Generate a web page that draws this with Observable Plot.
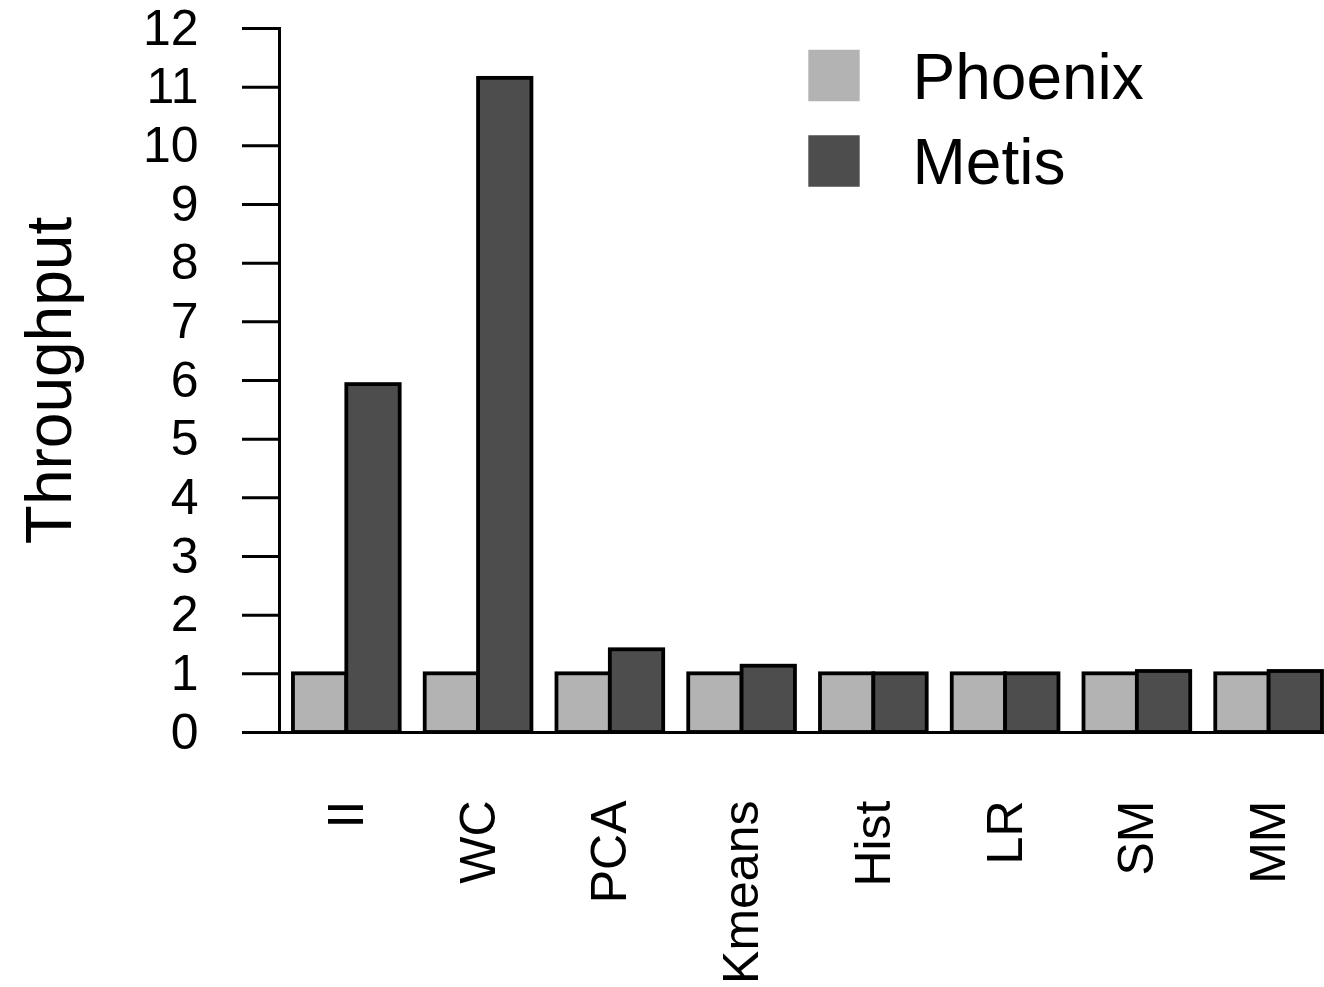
<!DOCTYPE html>
<html>
<head>
<meta charset="utf-8">
<script src="https://cdn.jsdelivr.net/npm/d3@7"></script>
<script src="https://cdn.jsdelivr.net/npm/@observablehq/plot@0.6"></script>
<style>
  html, body { margin: 0; padding: 0; background: #fff; }
  #chart { width: 1324px; height: 987px; }
</style>
</head>
<body>
<div id="chart"></div>
<script>
// ---- data ----
const categories = ["II", "WC", "PCA", "Kmeans", "Hist", "LR", "SM", "MM"];
const seriesNames = ["Phoenix", "Metis"];
const phoenix = [1, 1, 1, 1, 1, 1, 1, 1];
const metis = [5.93, 11.15, 1.41, 1.13, 1.0, 1.0, 1.04, 1.04];
const yTicks = [0, 1, 2, 3, 4, 5, 6, 7, 8, 9, 10, 11, 12];
const seriesColors = ["#b3b3b3", "#4d4d4d"];
const yLabel = "Throughput";

// ---- layout ----
const W = 1324, H = 987;
const mL = 242, mR = 0, mT = 28, mB = H - 732;
const padIn = 0.19, padOut = 0.201, align = 0.962;
const n = categories.length;
const step = (W - mL - mR) / (n - padIn + 2 * padOut);
const half = step * (1 - padIn) / 2;
const font = "'Liberation Sans', Arial, Helvetica, sans-serif";

const rows = categories.map((c, i) => ({category: c, phoenix: phoenix[i], metis: metis[i]}));

const chart = Plot.plot({
  width: W,
  height: H,
  marginLeft: mL,
  marginRight: mR,
  marginTop: mT,
  marginBottom: mB,
  style: {fontFamily: font, color: "black", background: "white"},
  x: {type: "band", domain: categories, paddingInner: padIn, paddingOuter: padOut, align: align, round: false},
  y: {domain: [0, 12], round: false},
  marks: [
    Plot.barY(rows, {x: "category", y: "phoenix", fill: seriesColors[0], stroke: "black", strokeWidth: 3.8, insetRight: half}),
    Plot.barY(rows, {x: "category", y: "metis", fill: seriesColors[1], stroke: "black", strokeWidth: 3.8, insetLeft: half}),
    Plot.ruleY([0], {stroke: "black", strokeWidth: 3}),
    Plot.frame({anchor: "left", dx: 37, stroke: "black", strokeWidth: 3}),
    Plot.axisY(yTicks, {tickSize: 37, tickPadding: 44, dx: 37, fontSize: 50, strokeWidth: 3, label: null, tickFormat: d3.format("d")}),
    Plot.axisX({tickSize: 0, tickPadding: 68, tickRotate: -90, fontSize: 50, label: null}),
    Plot.text([yLabel], {text: d => d, frameAnchor: "left", rotate: -90, dx: -192, fontSize: 64, fill: "black", textAnchor: "middle", lineAnchor: "middle"}),
    Plot.dot([seriesNames[0]], {frameAnchor: "top-left", dx: 591.5, dy: 47, symbol: "square", r: 29, fill: seriesColors[0], stroke: null}),
    Plot.dot([seriesNames[1]], {frameAnchor: "top-left", dx: 591.5, dy: 132.5, symbol: "square", r: 29, fill: seriesColors[1], stroke: null}),
    Plot.text([seriesNames[0]], {text: d => d, frameAnchor: "top-left", dx: 670, dy: 50, textAnchor: "start", lineAnchor: "middle", fontSize: 64, fill: "black"}),
    Plot.text([seriesNames[1]], {text: d => d, frameAnchor: "top-left", dx: 670, dy: 135, textAnchor: "start", lineAnchor: "middle", fontSize: 64, fill: "black"})
  ]
});
document.getElementById("chart").appendChild(chart);
</script>
</body>
</html>
